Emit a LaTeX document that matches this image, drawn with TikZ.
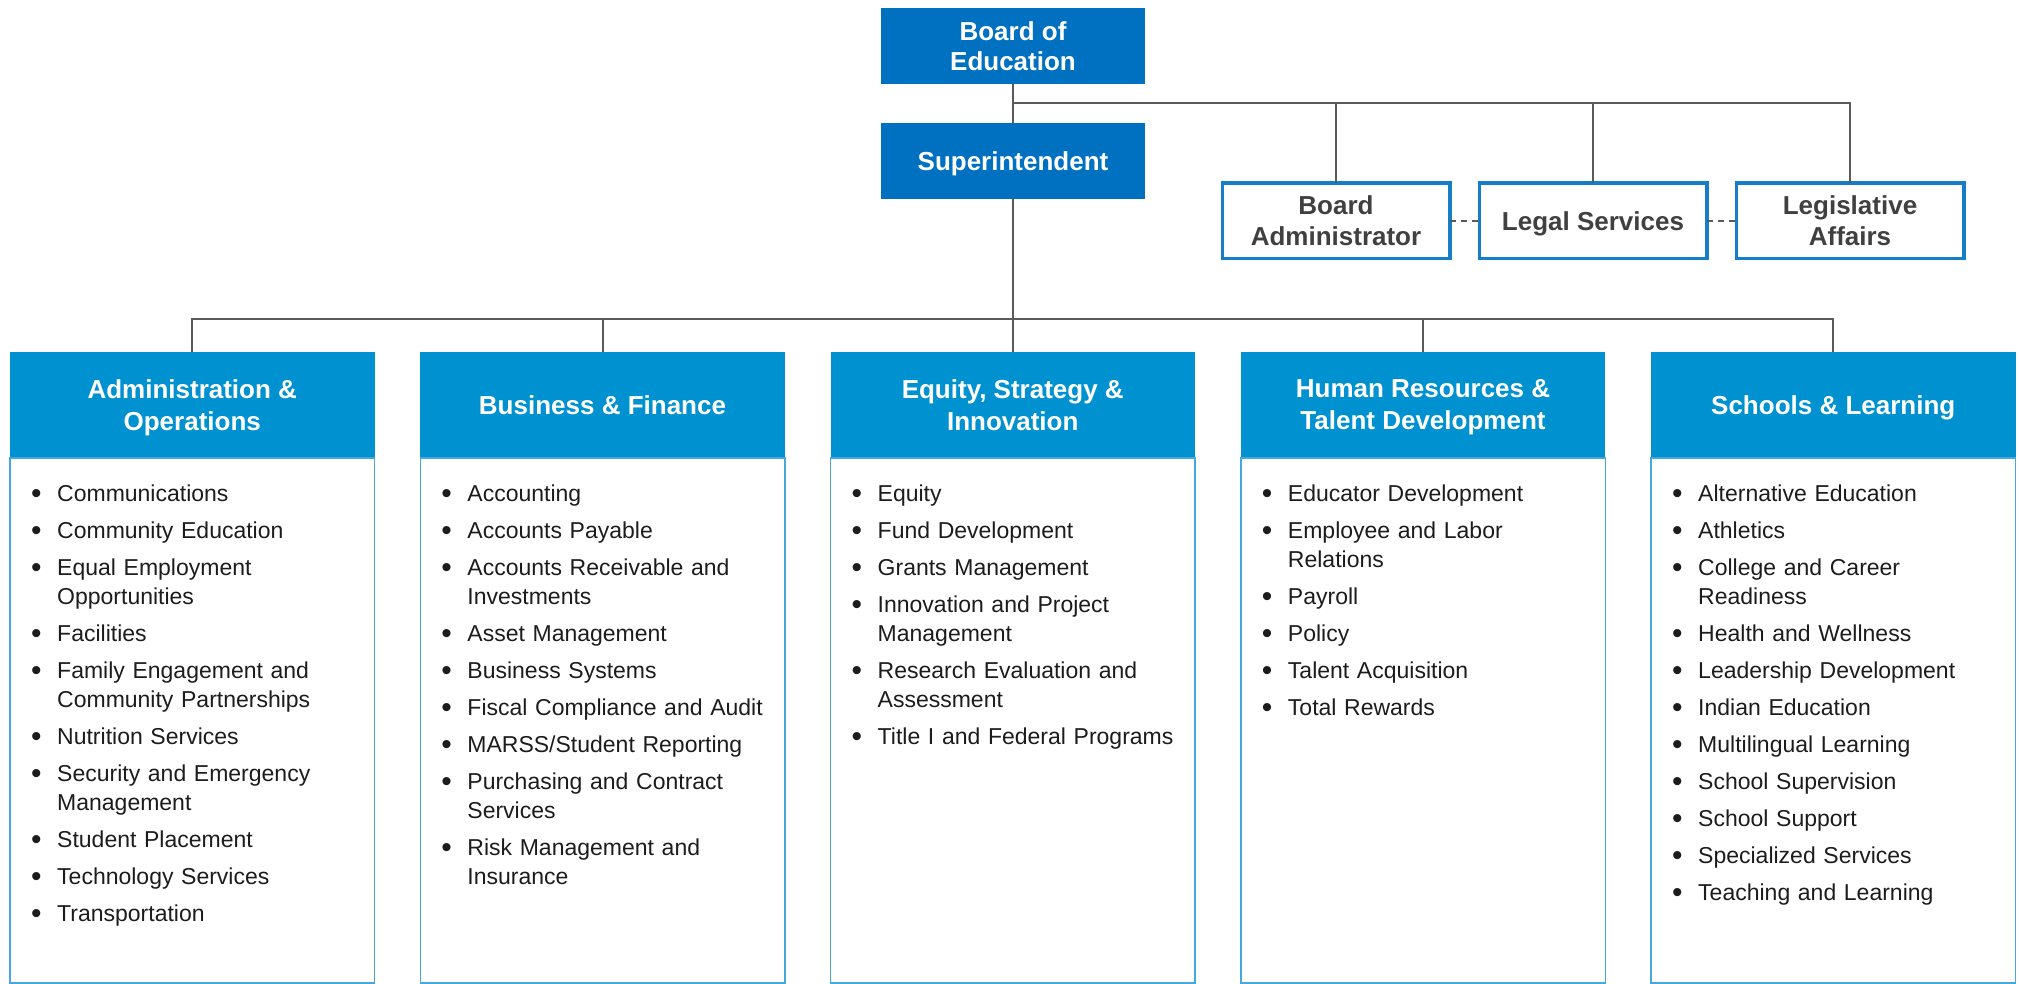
\documentclass[tikz,border=0pt]{standalone}
\usepackage{fontspec}
\setmainfont{Liberation Sans}
\usepackage{graphicx}
\usepackage{tikz}
\usetikzlibrary{positioning}
\definecolor{boardblue}{RGB}{0,112,192}
\definecolor{headblue}{RGB}{0,145,208}
\definecolor{rimblue}{RGB}{22,126,200}
\definecolor{bodyrim}{RGB}{70,168,222}
\definecolor{wiregray}{RGB}{90,90,90}
\definecolor{advtext}{RGB}{64,64,64}
\definecolor{itemtext}{RGB}{28,28,28}
\newcommand{\nohyph}{\hyphenpenalty=10000 \exhyphenpenalty=10000 }
\newcommand{\officeitem}[1]{\hangindent=26pt\hangafter=1\noindent\makebox[26pt][l]{\raisebox{-1.5pt}{\scalebox{1.3}{\textbullet}}}\strut#1\strut\par\vspace{8pt}}
\tikzset{top box/.style={fill=boardblue,text=white,font=\fontsize{26}{30}\selectfont\bfseries,align=center,text depth=0pt,minimum width=264pt,minimum height=76pt,inner sep=0pt,outer sep=0pt}}
\tikzset{side box/.style={draw=rimblue,line width=3.5pt,fill=white,text=advtext,font=\fontsize{26}{31}\selectfont\bfseries,align=center,text depth=0pt,minimum width=227.5pt,minimum height=75.5pt,inner sep=0pt,outer sep=0pt}}
\tikzset{dept head/.style={fill=headblue,text=white,font=\fontsize{26}{32}\selectfont\bfseries,align=center,text depth=0pt,minimum width=364.5pt,minimum height=106pt,inner sep=0pt,outer sep=0pt}}
\tikzset{dept body/.style={draw=bodyrim,line width=1.5pt,minimum width=364.5pt,minimum height=525pt,inner sep=0pt,outer sep=0pt}}
\tikzset{dept list/.style={text=itemtext,font=\fontsize{23}{29}\selectfont,text width=328pt,align=left,inner sep=0pt}}
\tikzset{wire/.style={draw=wiregray,line width=2pt}}
\tikzset{dashed wire/.style={wire,dash pattern=on 6pt off 5pt}}

\begin{document}
\begin{tikzpicture}[x=1pt,y=1pt]
    \useasboundingbox (0,0) rectangle (2019,-984);
    % board and superintendent
    \node[top box] (board) at (1013,-46) {Board of\\Education};
    \node[top box] (supt) [below=39pt of board] {Superintendent};
    % offices reporting to the board
    \node[side box] (admin) at (1336,-221) {Board\\Administrator};
    \node[side box] (legal) [right=29.5pt of admin] {Legal Services};
    \node[side box] (legis) [right=29.5pt of legal] {Legislative\\Affairs};
    \coordinate (upper bus) at (1013,-103);
    \coordinate (lower bus) at (1013,-319);
    \draw[wire] (board) -- (supt);
    \draw[wire] (supt.south) -- (lower bus);
    \draw[wire] (admin.north) |- (upper bus);
    \draw[wire] (legal.north) |- (upper bus);
    \draw[wire] (legis.north) |- (upper bus);
    \draw[dashed wire] (admin) -- (legal);
    \draw[dashed wire] (legal) -- (legis);
    % divisions
    \node[dept head] (ops) at (192.25,-405) {Administration \&\\Operations};
    \node[dept head] (fin) [right=45.75pt of ops] {Business \& Finance};
    \node[dept head] (esi) [right=45.75pt of fin] {Equity, Strategy \&\\Innovation};
    \node[dept head] (hr) [right=45.75pt of esi] {Human Resources \&\\Talent Development};
    \node[dept head] (sl) [right=45.75pt of hr] {Schools \& Learning};
    \draw[wire] (ops.north) |- (lower bus);
    \draw[wire] (fin.north) |- (lower bus);
    \draw[wire] (esi.north) |- (lower bus);
    \draw[wire] (hr.north) |- (lower bus);
    \draw[wire] (sl.north) |- (lower bus);
    \node[dept body] (ops body) [below=0pt of ops] {};
    \node[dept body] (fin body) [below=0pt of fin] {};
    \node[dept body] (esi body) [below=0pt of esi] {};
    \node[dept body] (hr body) [below=0pt of hr] {};
    \node[dept body] (sl body) [below=0pt of sl] {};
    % units of each division
    \node[dept list] (ops list) [below right=23pt and 21pt of ops body.north west] {\nohyph
        \officeitem{Communications}
        \officeitem{Community Education}
        \officeitem{Equal Employment Opportunities}
        \officeitem{Facilities}
        \officeitem{Family Engagement and Community Partnerships}
        \officeitem{Nutrition Services}
        \officeitem{Security and Emergency Management}
        \officeitem{Student Placement}
        \officeitem{Technology Services}
        \officeitem{Transportation}};
    \node[dept list] (fin list) [below right=23pt and 21pt of fin body.north west] {\nohyph
        \officeitem{Accounting}
        \officeitem{Accounts Payable}
        \officeitem{Accounts Receivable and Investments}
        \officeitem{Asset Management}
        \officeitem{Business Systems}
        \officeitem{Fiscal Compliance and Audit}
        \officeitem{MARSS/Student Reporting}
        \officeitem{Purchasing and Contract Services}
        \officeitem{Risk Management and Insurance}};
    \node[dept list] (esi list) [below right=23pt and 21pt of esi body.north west] {\nohyph
        \officeitem{Equity}
        \officeitem{Fund Development}
        \officeitem{Grants Management}
        \officeitem{Innovation and Project Management}
        \officeitem{Research Evaluation and Assessment}
        \officeitem{Title I and Federal Programs}};
    \node[dept list] (hr list) [below right=23pt and 21pt of hr body.north west] {\nohyph
        \officeitem{Educator Development}
        \officeitem{Employee and Labor Relations}
        \officeitem{Payroll}
        \officeitem{Policy}
        \officeitem{Talent Acquisition}
        \officeitem{Total Rewards}};
    \node[dept list] (sl list) [below right=23pt and 21pt of sl body.north west] {\nohyph
        \officeitem{Alternative Education}
        \officeitem{Athletics}
        \officeitem{College and Career Readiness}
        \officeitem{Health and Wellness}
        \officeitem{Leadership Development}
        \officeitem{Indian Education}
        \officeitem{Multilingual Learning}
        \officeitem{School Supervision}
        \officeitem{School Support}
        \officeitem{Specialized Services}
        \officeitem{Teaching and Learning}};
\end{tikzpicture}
\end{document}
